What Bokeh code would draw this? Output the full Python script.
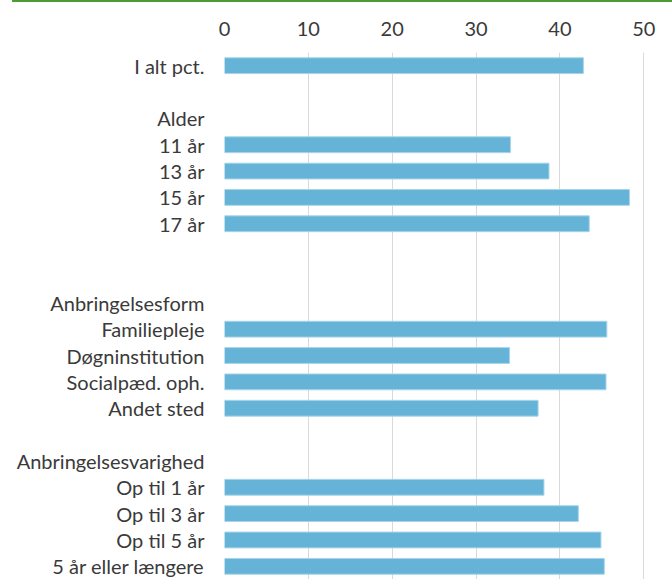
from bokeh.plotting import figure
from bokeh.models import FactorRange, Range1d, ColumnDataSource, FixedTicker, Spacer
from bokeh.layouts import column
from bokeh.embed import file_html
from bokeh.resources import INLINE

# Row labels, top to bottom (blank strings are spacer rows)
row_labels = ["I alt pct.", " ", "Alder", "11 år", "13 år", "15 år", "17 år", "  ", "   ",
              "Anbringelsesform", "Familiepleje", "Døgninstitution", "Socialpæd. oph.", "Andet sted",
              "    ", "Anbringelsesvarighed", "Op til 1 år", "Op til 3 år", "Op til 5 år",
              "5 år eller længere"]

bar_labels = ["I alt pct.", "11 år", "13 år", "15 år", "17 år",
              "Familiepleje", "Døgninstitution", "Socialpæd. oph.", "Andet sted",
              "Op til 1 år", "Op til 3 år", "Op til 5 år", "5 år eller længere"]
bar_values = [42.8, 34.1, 38.7, 48.3, 43.5,
              45.6, 34.0, 45.5, 37.4,
              38.1, 42.2, 44.9, 45.3]
x_ticks = [0, 10, 20, 30, 40, 50]

FONT = "Lato"
TEXT = "#3a3a3a"

fig = figure(width=672, height=577, output_backend="svg", toolbar_location=None,
             y_range=FactorRange(factors=list(reversed(row_labels)), range_padding=0),
             x_range=Range1d(0, 52), x_axis_location="above",
             min_border_left=224, min_border_right=12, min_border_top=50, min_border_bottom=0)

src = ColumnDataSource(dict(y=bar_labels, v=bar_values))
fig.hbar(y="y", right="v", left=0, height=0.6, source=src,
         fill_color="#65b3d6", line_color="#a8d5ea", line_width=1)

fig.outline_line_color = None
fig.background_fill_color = "white"
fig.border_fill_color = "white"

fig.ygrid.grid_line_color = None
fig.xgrid.grid_line_color = "#d9d9d9"
fig.xgrid.grid_line_width = 1
fig.xgrid.ticker = FixedTicker(ticks=x_ticks)

xa = fig.xaxis[0]
xa.ticker = FixedTicker(ticks=x_ticks)
xa.axis_line_color = None
xa.major_tick_line_color = None
xa.minor_tick_line_color = None
xa.major_tick_out = 0
xa.major_label_standoff = 17
xa.major_label_text_font = FONT
xa.major_label_text_font_size = "20px"
xa.major_label_text_color = TEXT

ya = fig.yaxis[0]
ya.axis_line_color = None
ya.major_tick_line_color = None
ya.major_tick_out = 0
ya.major_label_standoff = 20
ya.major_label_text_font = FONT
ya.major_label_text_font_size = "20px"
ya.major_label_text_color = TEXT

# green rule at the very top
rule = Spacer(width=660, height=2, margin=(0, 0, 0, 12),
              styles={"background-color": "#4f9a35"})

p = column(rule, fig, spacing=0)

open("out.html", "w").write(file_html(p, INLINE))
